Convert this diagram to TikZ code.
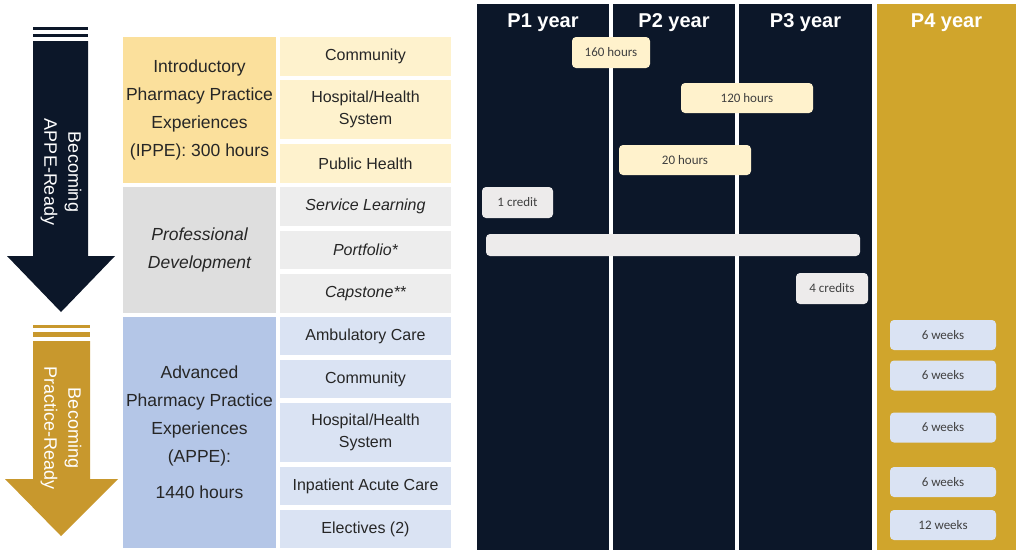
\documentclass[tikz,border=0pt]{standalone}
\usepackage{fontspec}
\setmainfont{Liberation Sans}
\newfontfamily\barfont{Carlito}
\definecolor{navy}{HTML}{0C1729}
\definecolor{goldcol}{HTML}{D0A52C}
\definecolor{goldarr}{HTML}{C8982D}
\definecolor{ippeL}{HTML}{FBE09C}
\definecolor{ippeR}{HTML}{FEF2CD}
\definecolor{pdL}{HTML}{DEDEDE}
\definecolor{pdR}{HTML}{EDEDED}
\definecolor{appeL}{HTML}{B4C6E7}
\definecolor{appeR}{HTML}{DAE3F3}
\definecolor{cream}{HTML}{FFF2CC}
\definecolor{lgray}{HTML}{EDEBEB}
\definecolor{txt}{HTML}{262626}
\definecolor{bartxt}{HTML}{404040}
\begin{document}
\begin{tikzpicture}[x=1pt,y=-1pt]
    \tikzset{catbox/.style={inner sep=0pt,align=center,text=txt,font=\fontsize{17.5}{28}\selectfont,minimum width=153pt},
        itembox/.style={inner sep=0pt,align=center,text=txt,font=\fontsize{16}{22}\selectfont,minimum width=171pt},
        yearcol/.style={inner sep=0pt,minimum height=546pt},
        yearhd/.style={text=white,font=\bfseries\fontsize{20}{24}\selectfont},
        barbox/.style={inner sep=0pt,rounded corners=4pt,text=bartxt,font=\barfont\fontsize{13}{15}\selectfont},
        arrtxt/.style={rotate=-90,align=center,text=white,font=\fontsize{18}{24}\selectfont}};
    \useasboundingbox (0,0) rectangle (1024,558);
    % left arrows
    \fill[navy] (33,27) rectangle (88,30);
    \fill[navy] (33,34) rectangle (88,37);
    \fill[navy] (33,41) -- (88,41) -- (88,256) -- (115,256) -- (61,312) -- (7,256) -- (33,256) -- cycle;
    \node[arrtxt] (apperdy) at (61,172) {Becoming\\APPE-Ready};
    \fill[goldarr] (33,325) rectangle (90,328);
    \fill[goldarr] (33,332) rectangle (90,337);
    \fill[goldarr] (33,341) -- (90,341) -- (90,479) -- (118,479) -- (61,536) -- (5,479) -- (33,479) -- cycle;
    \node[arrtxt] (practrdy) at (61,428) {Becoming\\Practice-Ready};
    % IPPE
    \node[catbox,fill=ippeL,minimum height=146pt] (ippe) at (199.5,110) {Introductory\\Pharmacy Practice\\Experiences\\(IPPE): 300 hours};
    \node[itembox,fill=ippeR,minimum height=39pt] (comm1) at (365.5,56.5) {Community};
    \node[itembox,fill=ippeR,minimum height=59pt] (hosp1) at (365.5,109.5) {Hospital/Health\\System};
    \node[itembox,fill=ippeR,minimum height=39pt] (pubh) at (365.5,163.5) {Public Health};
    % professional development
    \node[catbox,fill=pdL,minimum height=126pt,font=\itshape\fontsize{17.5}{28}\selectfont] (profdev) at (199.5,250) {Professional\\Development};
    \node[itembox,fill=pdR,minimum height=39pt,font=\itshape\fontsize{16}{22}\selectfont] (serv) at (365.5,206.5) {Service Learning};
    \node[itembox,fill=pdR,minimum height=38pt,font=\itshape\fontsize{16}{22}\selectfont] (port) at (365.5,250) {Portfolio*};
    \node[itembox,fill=pdR,minimum height=39pt,font=\itshape\fontsize{16}{22}\selectfont] (caps) at (365.5,293.5) {Capstone**};
    % APPE
    \node[catbox,fill=appeL,minimum height=231pt] (appe) at (199.5,432.5) {Advanced\\Pharmacy Practice\\Experiences\\(APPE):\\[8pt]1440 hours};
    \node[itembox,fill=appeR,minimum height=38pt] (amb) at (365.5,336) {Ambulatory Care};
    \node[itembox,fill=appeR,minimum height=38pt] (comm2) at (365.5,379) {Community};
    \node[itembox,fill=appeR,minimum height=59pt] (hosp2) at (365.5,432.5) {Hospital/Health\\System};
    \node[itembox,fill=appeR,minimum height=38pt] (inpat) at (365.5,486) {Inpatient Acute Care};
    \node[itembox,fill=appeR,minimum height=38pt] (elect) at (365.5,529) {Electives (2)};
    % year columns
    \node[yearcol,fill=navy,minimum width=132pt] (p1) at (543,277) {};
    \node[yearcol,fill=navy,minimum width=122pt] (p2) at (674,277) {};
    \node[yearcol,fill=navy,minimum width=133pt] (p3) at (805.5,277) {};
    \node[yearcol,fill=goldcol,minimum width=139pt] (p4) at (946.5,277) {};
    \foreach \y/\lbl in {p1/P1,p2/P2,p3/P3,p4/P4}
        \node[yearhd] (\y hd) at ([yshift=-18.5pt]\y.north) {\lbl\ year};
    % bars
    \node[barbox,fill=cream,minimum width=78pt,minimum height=31pt] (h160) at (611,52.5) {160 hours};
    \node[barbox,fill=cream,minimum width=132pt,minimum height=30pt] (h120) at (747,98) {120 hours};
    \node[barbox,fill=cream,minimum width=132pt,minimum height=30pt] (h20) at (685,160) {20 hours};
    \node[barbox,fill=lgray,minimum width=71pt,minimum height=31pt] (cr1) at (517.5,202.5) {1 credit};
    \node[barbox,fill=lgray,minimum width=374pt,minimum height=22pt] (portbar) at (673,245) {};
    \node[barbox,fill=lgray,minimum width=72pt,minimum height=31pt] (cr4) at (832,288.5) {4 credits};
    \node[barbox,fill=appeR,minimum width=106pt,minimum height=30pt] (wk1) at (943,335) {6 weeks};
    \node[barbox,fill=appeR,minimum width=106pt,minimum height=30pt] (wk2) at (943,375.5) {6 weeks};
    \node[barbox,fill=appeR,minimum width=106pt,minimum height=30pt] (wk3) at (943,427.5) {6 weeks};
    \node[barbox,fill=appeR,minimum width=106pt,minimum height=30pt] (wk4) at (943,482) {6 weeks};
    \node[barbox,fill=appeR,minimum width=106pt,minimum height=30pt] (wk5) at (943,525) {12 weeks};
\end{tikzpicture}
\end{document}
